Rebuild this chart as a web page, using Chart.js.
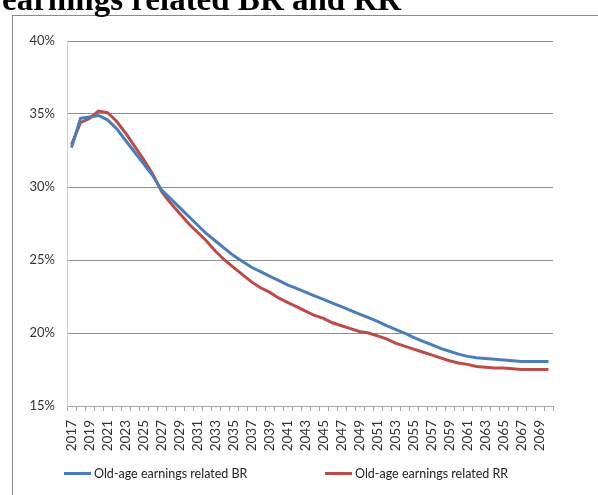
<!DOCTYPE html>
<html>
<head>
<meta charset="utf-8">
<script src="https://cdn.jsdelivr.net/npm/chart.js@4.4.1/dist/chart.umd.min.js"></script>
<style>
  body { margin: 0; background: #fff; }
  #wrap { position: relative; width: 598px; height: 495px; overflow: hidden; background: #fff; }
  #title { position: absolute; left: 2px; top: -19px; z-index: 2; font: bold 33px "Liberation Serif", "Times New Roman", serif; color: #000; white-space: nowrap; }
  #box { position: absolute; left: 12px; top: 15px; width: 700px; height: 600px; border: 1px solid #8a8a8a; }
  #myChart { position: absolute; left: 0; top: 0; }
  .leg { position: absolute; top: 466px; font: 12.5px Lato, sans-serif; color: #222; white-space: nowrap; }
  .leg span { display: inline-block; width: 27px; height: 3px; vertical-align: middle; margin-right: 3px; position: relative; top: -1px; }
</style>
</head>
<body>
<div id="wrap">
  <div id="box"></div>
  <canvas id="myChart" width="598" height="495"></canvas>
  <div id="title">earnings related BR and RR</div>
  <div id="legend"></div>
</div>
<script>
// years on the x axis
var years = [2017, 2018, 2019, 2020, 2021, 2022, 2023, 2024, 2025, 2026,
             2027, 2028, 2029, 2030, 2031, 2032, 2033, 2034, 2035, 2036,
             2037, 2038, 2039, 2040, 2041, 2042, 2043, 2044, 2045, 2046,
             2047, 2048, 2049, 2050, 2051, 2052, 2053, 2054, 2055, 2056,
             2057, 2058, 2059, 2060, 2061, 2062, 2063, 2064, 2065, 2066,
             2067, 2068, 2069, 2070]

// Old-age earnings related BR (%)
var brValues = [32.7, 34.7, 34.8, 34.9, 34.6, 34.0, 33.2, 32.4, 31.6, 30.8,
                29.8, 29.2, 28.6, 28.0, 27.4, 26.8, 26.3, 25.8, 25.3, 24.9,
                24.5, 24.2, 23.9, 23.6, 23.3, 23.05, 22.8, 22.55, 22.3, 22.05,
                21.8, 21.55, 21.3, 21.05, 20.8, 20.5, 20.25, 20.0, 19.7, 19.45,
                19.2, 18.95, 18.75, 18.55, 18.4, 18.3, 18.25, 18.2, 18.15, 18.1,
                18.05, 18.05, 18.05, 18.05]

// Old-age earnings related RR (%)
var rrValues = [32.9, 34.4, 34.7, 35.2, 35.1, 34.5, 33.7, 32.8, 31.9, 30.9,
                29.7, 28.9, 28.2, 27.5, 26.9, 26.3, 25.6, 25.0, 24.5, 24.0,
                23.5, 23.1, 22.8, 22.4, 22.1, 21.8, 21.5, 21.2, 21.0, 20.7,
                20.5, 20.3, 20.1, 20.0, 19.8, 19.6, 19.3, 19.1, 18.9, 18.7,
                18.5, 18.3, 18.1, 17.95, 17.85, 17.7, 17.65, 17.6, 17.6, 17.55,
                17.5, 17.5, 17.5, 17.5]

var yMin = 15, yMax = 40, yStep = 5

var seriesNames = ["Old-age earnings related BR", "Old-age earnings related RR"]
var seriesColors = ["#4a7ebb", "#be4b48"]

var ctx = document.getElementById("myChart").getContext('2d')

var chart = new Chart(ctx, {
    type: 'line',
    data: {
        labels: years,
        datasets: [
            {
                label: seriesNames[0],
                data: brValues,
                borderColor: seriesColors[0],
                backgroundColor: seriesColors[0],
                borderWidth: 3,
                pointRadius: 0,
                fill: false
            },
            {
                label: seriesNames[1],
                data: rrValues,
                borderColor: seriesColors[1],
                backgroundColor: seriesColors[1],
                borderWidth: 3,
                pointRadius: 0,
                fill: false
            }
        ]
    },
    options: {
        responsive: false,
        animation: false,
        devicePixelRatio: 1,
        layout: { padding: { left: 12, right: 45, top: 41, bottom: 39 } },
        plugins: {
            legend: { display: false },
            tooltip: { enabled: false }
        },
        scales: {
            x: {
                type: 'category',
                offset: true,
                grid: { offset: true, drawOnChartArea: false, tickLength: 5, color: '#a6a6a6' },
                border: { color: '#a6a6a6' },
                ticks: {
                    autoSkip: false,
                    maxRotation: 90,
                    minRotation: 90,
                    padding: 9,
                    color: '#333',
                    font: { family: 'Lato', size: 13.5 },
                    callback: function(v, i){ return i % 2 === 0 ? String(years[i]) : '' }
                },
                afterFit: function(scale){ scale.height = 50 }
            },
            y: {
                min: yMin,
                max: yMax,
                grid: { color: '#909090', drawTicks: false },
                border: { color: '#d0d0d0' },
                ticks: {
                    stepSize: yStep,
                    padding: 12,
                    color: '#333',
                    font: { family: 'Lato', size: 13 },
                    callback: function(v){ return v + '%' }
                },
                afterFit: function(scale){ scale.width = 55 }
            }
        }
    }
})

// legend built from the chart's own datasets
var legendPos = [64, 325]
var html = ''
chart.data.datasets.forEach(function(ds, i){
    html += '<div class="leg" style="left:' + legendPos[i] + 'px"><span style="background:' + ds.borderColor + '"></span>' + ds.label + '</div>'
})
document.getElementById("legend").innerHTML = html
</script>
</body>
</html>
